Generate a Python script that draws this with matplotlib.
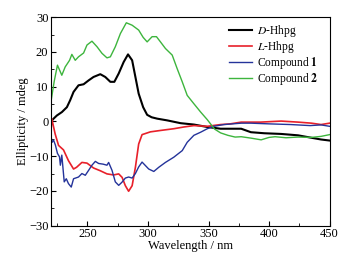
import numpy as np
import matplotlib.pyplot as plt
from matplotlib.ticker import MultipleLocator

plt.rcParams['font.family'] = ['Liberation Serif', 'DejaVu Serif']
plt.rcParams['mathtext.fontset'] = 'stix'

# D-Hhpg (black)
wl_d = [220, 222, 224.7, 228.9, 233, 235.7, 238.5, 242.6, 246.8, 250.9, 255, 260.6,
        264.7, 268.9, 272.2, 275.8, 279.9, 283.5, 286.9, 289.6, 292.3, 296, 299.3,
        303, 307.6, 315.9, 326.9, 338, 349, 360, 368, 377, 385, 396, 410, 424, 435, 443, 450]
cd_d = [0, 0.8, 1.7, 2.7, 4.1, 6.1, 8.5, 10.4, 10.7, 11.8, 12.8, 13.6,
        12.8, 11.4, 11.4, 13.8, 17.1, 19.3, 17.6, 12.8, 8.0, 4.1, 1.9,
        1.2, 0.8, 0.3, -0.5, -0.9, -1.6, -2.1, -2.1, -2.1, -3.1, -3.4, -3.6, -4.0, -4.7, -5.2, -5.5]

# L-Hhpg (red)
wl_l = [220, 220.5, 223.3, 226.1, 230.2, 234.3, 238.5, 241, 245.4, 249.6, 255, 260.6,
        266.1, 271.6, 275.8, 278.6, 281.3, 284, 286.9, 289.6, 292.3, 295.1, 302,
        310.3, 321.3, 329.6, 337.9, 349, 360, 368, 377, 393, 410, 424, 435, 443, 450]
cd_l = [-2, 0.8, -3.6, -6.9, -8.2, -11.3, -13.7, -13.2, -11.8, -12.0, -13.4, -14.2,
        -15.1, -15.4, -15.1, -16.1, -18.5, -20.1, -18.5, -13.2, -6.5, -3.8, -3.0,
        -2.6, -2.1, -1.6, -1.2, -1.4, -0.9, -0.7, -0.2, -0.2, 0.1, -0.2, -0.5, -0.9, -0.5]

# Compound 1 (blue)
wl_1 = [220, 220.8, 222, 223.5, 225.2, 226.9, 227.6, 228.8, 230.8, 232.5, 234.3, 236.6,
        238.5, 242.6, 245.4, 248.2, 250.9, 253.7, 256.5, 259.2, 263, 266.1, 267.5,
        270.3, 273, 275.8, 278.5, 281.3, 284, 286.9, 289.6, 292.3, 295.1, 300.6,
        304.8, 308.9, 314.4, 321.3, 328.3, 332.4, 337.9, 343.5, 349, 354.5, 362.8,
        377, 385, 400, 418, 434, 443, 450]
cd_1 = [-4.5, -6.0, -5.4, -6.8, -9.2, -10.2, -12.6, -9.7, -17.4, -16.5, -17.9, -18.9,
        -16.5, -16.0, -15.0, -15.5, -14.1, -12.6, -11.5, -12.1, -12.3, -12.6, -11.8,
        -14.1, -17.4, -18.4, -17.5, -16.3, -16.0, -16.3, -15.0, -13.1, -11.7, -13.7,
        -14.4, -13.2, -11.8, -10.3, -8.4, -6.0, -4.0, -3.1, -2.1, -1.4, -0.9,
        -0.5, -0.5, -0.7, -0.9, -1.2, -1.0, -1.4]

# Compound 2 (green)
wl_2 = [220, 222.5, 225.2, 228.8, 231.6, 233.5, 235.2, 237.1, 239.9, 242.6, 246.8, 249.6,
        253.7, 257.9, 262, 266.1, 268.9, 273, 277.2, 282.1, 286.9, 292.3, 296, 299.3,
        303.4, 307, 310.3, 314.4, 320, 324.1, 328.3, 332.4, 337.9, 343.5, 349, 355,
        360, 366, 372, 377, 385, 393.5, 400, 405, 414, 424, 435, 443, 450]
cd_2 = [6.0, 11.5, 16.2, 13.3, 15.7, 16.7, 17.6, 19.3, 17.6, 18.6, 19.7, 22.0,
        23.1, 21.5, 19.6, 18.3, 18.6, 21.5, 25.3, 28.4, 27.7, 26.3, 24.2, 22.9,
        24.4, 24.4, 22.9, 21.0, 19.1, 15.2, 11.4, 7.5, 5.1, 2.7, 0.5, -2.2,
        -3.3, -4.0, -4.5, -4.4, -4.8, -5.3, -4.6, -4.4, -4.7, -4.5, -4.6, -4.3, -3.8]

fig = plt.figure(figsize=(3.48, 2.57), dpi=100)
ax = fig.add_axes([0.147, 0.122, 0.800, 0.811])

ax.plot(wl_d, cd_d, color='black', lw=1.5, label='$\\it{D}$-Hhpg')
ax.plot(wl_l, cd_l, color='#e8202a', lw=1.2, label='$\\it{L}$-Hhpg')
ax.plot(wl_1, cd_1, color='#24339a', lw=1.0, label='Compound $\\mathbf{1}$')
ax.plot(wl_2, cd_2, color='#3db53d', lw=1.0, label='Compound $\\mathbf{2}$')

ax.set_xlim(220, 450)
ax.set_ylim(-30, 30)
ax.xaxis.set_major_locator(MultipleLocator(50))
ax.xaxis.set_minor_locator(MultipleLocator(25))
ax.yaxis.set_major_locator(MultipleLocator(10))
ax.yaxis.set_minor_locator(MultipleLocator(5))
ax.tick_params(which='both', direction='in', labelsize=9, pad=2)
ax.tick_params(which='major', length=3.5)
ax.tick_params(which='minor', length=2)
ax.set_xticks([250, 300, 350, 400, 450])

ax.set_xlabel('Wavelength / nm', fontsize=9, labelpad=0)
ax.set_ylabel('Ellipticity / mdeg', fontsize=9, labelpad=0)

ax.legend(loc='upper right', frameon=False, prop={'size': 8.3}, handlelength=2.0,
          handletextpad=0.4, labelspacing=0.0, borderaxespad=0.1,
          bbox_to_anchor=(0.98, 1.0))

fig.savefig('out.png', dpi=100)
